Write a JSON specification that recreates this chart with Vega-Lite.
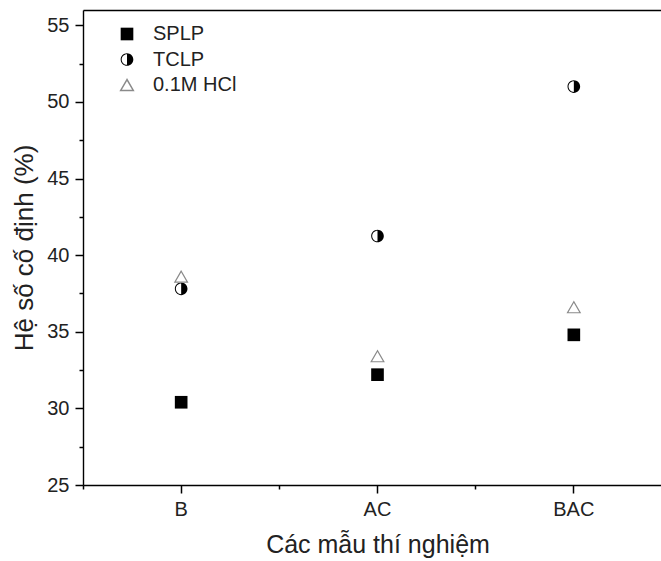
{
  "$schema": "https://vega.github.io/schema/vega-lite/v6.json",
  "width": 578,
  "height": 475,
  "autosize": {"type": "none"},
  "padding": {"left": 83, "top": 10, "right": 0, "bottom": 76},
  "background": "white",
  "config": {
    "view": {"stroke": null},
    "font": "Liberation Sans",
    "axis": {
      "grid": false,
      "ticks": true,
      "domainColor": "black",
      "tickColor": "black",
      "labelColor": "#222222",
      "titleColor": "#222222",
      "labelFont": "Liberation Sans",
      "titleFont": "Liberation Sans",
      "titleFontWeight": "normal",
      "domainWidth": 1.4,
      "tickWidth": 1.5
    }
  },
  "data": {
    "values": [
      {"sample": "B", "method": "SPLP", "value": 30.4},
      {"sample": "B", "method": "TCLP", "value": 37.8},
      {"sample": "B", "method": "0.1M HCl", "value": 38.6},
      {"sample": "AC", "method": "SPLP", "value": 32.2},
      {"sample": "AC", "method": "TCLP", "value": 41.25},
      {"sample": "AC", "method": "0.1M HCl", "value": 33.4},
      {"sample": "BAC", "method": "SPLP", "value": 34.8},
      {"sample": "BAC", "method": "TCLP", "value": 51.0},
      {"sample": "BAC", "method": "0.1M HCl", "value": 36.6}
    ]
  },
  "layer": [
    {
      "mark": {"type": "point", "filled": true, "size": 160, "opacity": 1, "strokeWidth": 1.2},
      "encoding": {
        "x": {
          "field": "sample", "type": "nominal", "sort": ["B", "AC", "BAC"], "bandPosition": 0.5,
          "scale": {"type": "band", "paddingInner": 0, "paddingOuter": 0, "range": [0, 589]},
          "axis": {
            "orient": "bottom", "bandPosition": 0.5, "labelAngle": 0, "ticks": true, "tickSize": 8, "tickColor": "black",
            "labelFontSize": 20, "labelPadding": 6,
            "title": "Các mẫu thí nghiệm", "titleFontSize": 25, "titlePadding": 13
          }
        },
        "y": {
          "field": "value", "type": "quantitative",
          "scale": {"domain": [25, 56], "nice": false, "zero": false},
          "axis": {
            "orient": "left",
            "values": [25, 30, 35, 40, 45, 50, 55],
            "ticks": true, "tickSize": 8, "tickColor": "black",
            "labelFontSize": 20, "labelPadding": 6,
            "title": "Hệ số cố định (%)", "titleFontSize": 26, "titlePadding": 9
          }
        },
        "shape": {
          "field": "method", "type": "nominal",
          "scale": {
            "domain": ["SPLP", "TCLP", "0.1M HCl"],
            "range": ["square", "M0,-1A1,1,0,0,1,0,1Z M0,-1A1,1,0,0,0,0,1L0,0.84A0.84,0.84,0,0,1,0,-0.84Z", "triangle-up"]
          },
          "legend": {"orient": "none", "legendX": 34, "legendY": 14, "title": null, "labelFontSize": 20, "labelColor": "#222222", "symbolSize": 160, "rowPadding": 5.5, "labelOffset": 16, "padding": 0}
        },
        "fill": {
          "field": "method", "type": "nominal",
          "scale": {"domain": ["SPLP", "TCLP", "0.1M HCl"], "range": ["black", "black", "white"]},
          "legend": {"orient": "none", "legendX": 34, "legendY": 14, "title": null, "labelFontSize": 20, "labelColor": "#222222", "symbolSize": 160, "rowPadding": 5.5, "labelOffset": 16, "padding": 0}
        },
        "stroke": {
          "field": "method", "type": "nominal",
          "scale": {"domain": ["SPLP", "TCLP", "0.1M HCl"], "range": ["transparent", "transparent", "#8a8a8a"]},
          "legend": {"orient": "none", "legendX": 34, "legendY": 14, "title": null, "labelFontSize": 20, "labelColor": "#222222", "symbolSize": 160, "rowPadding": 5.5, "labelOffset": 16, "padding": 0}
        }
      }
    },
    {
      "mark": {"type": "point", "opacity": 0},
      "encoding": {
        "x": {
          "field": "sample", "type": "nominal", "sort": ["B", "AC", "BAC"],
          "axis": {"orient": "bottom", "bandPosition": 0, "labels": false, "ticks": true, "tickSize": 4, "domain": false, "title": null}
        },
        "y": {
          "field": "value", "type": "quantitative",
          "axis": {"orient": "left", "values": [27.5, 32.5, 37.5, 42.5, 47.5, 52.5], "labels": false, "ticks": true, "tickSize": 4, "domain": false, "title": null}
        }
      }
    },
    {
      "mark": {"type": "point", "opacity": 0},
      "encoding": {
        "x": {
          "field": "sample", "type": "nominal", "sort": ["B", "AC", "BAC"],
          "axis": {"orient": "top", "labels": false, "ticks": false, "domain": true, "title": null}
        },
        "y": {"field": "value", "type": "quantitative", "axis": null}
      }
    }
  ],
  "resolve": {"axis": {"x": "independent", "y": "independent"}}
}
